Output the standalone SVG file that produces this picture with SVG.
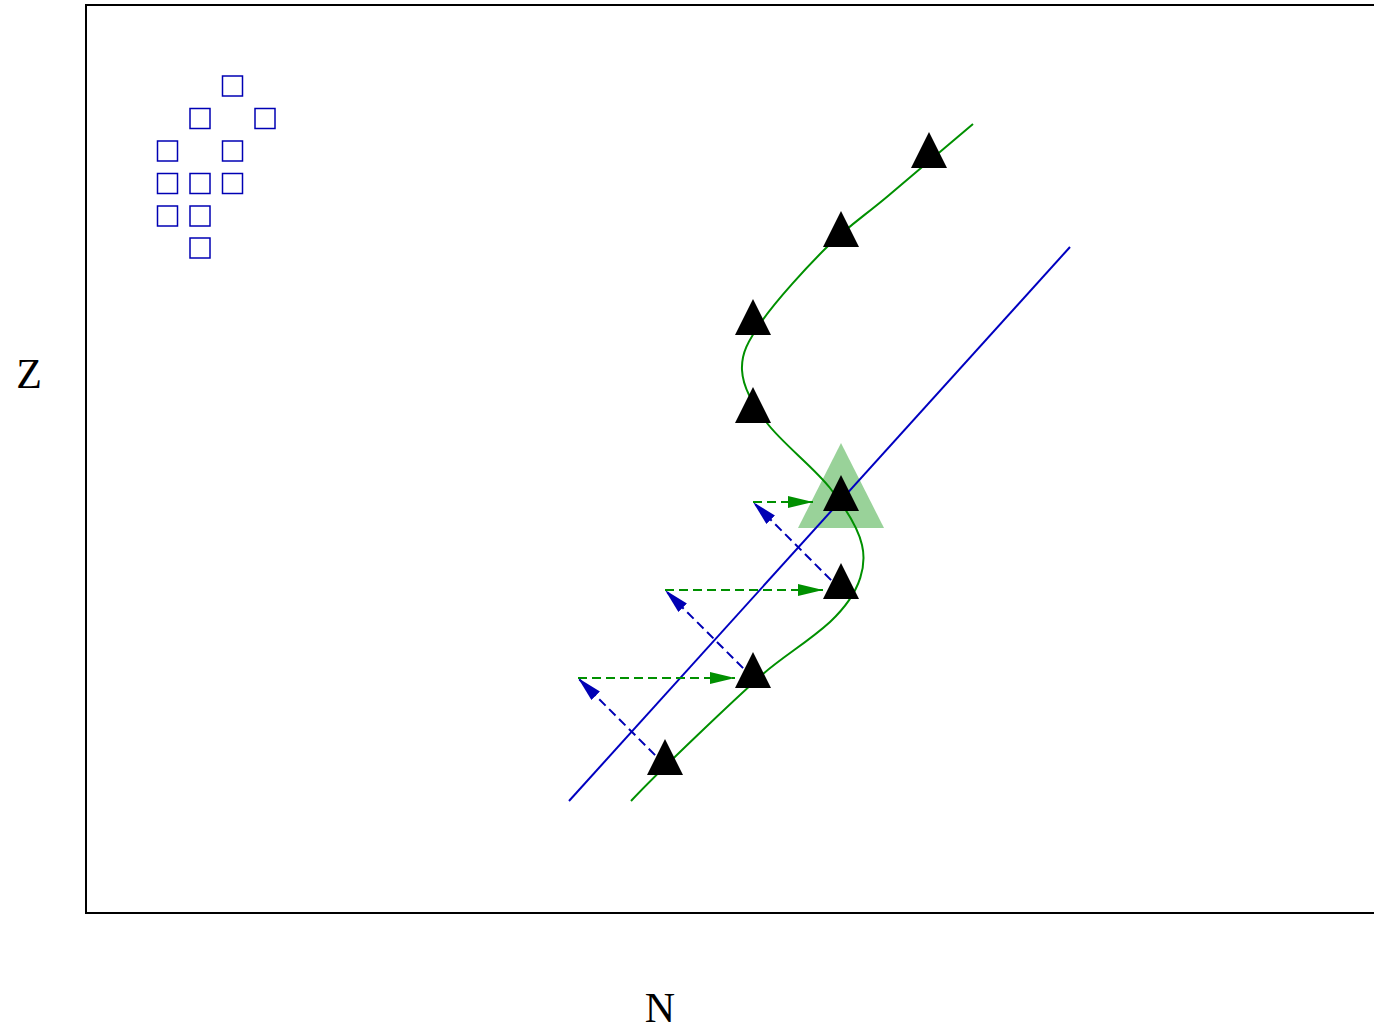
<svg xmlns="http://www.w3.org/2000/svg" width="1374" height="1029" viewBox="0 0 1374 1029">
<style>
.frame{fill:none;stroke:#000;stroke-width:2}
.sq{fill:none;stroke:#0000b4;stroke-width:1.5}
.tri{fill:#000}
.lbl{font-family:"Liberation Serif",serif;font-size:42px;fill:#000}
.gdash{fill:none;stroke:#009000;stroke-width:2;stroke-dasharray:9,5}
.bdash{fill:none;stroke:#0000b4;stroke-width:2;stroke-dasharray:9,5}
</style>
<defs>
<marker id="ga" markerUnits="userSpaceOnUse" markerWidth="26" markerHeight="14" refX="25" refY="6" orient="auto"><path d="M0,0 L25,6 L0,12 Z" fill="#009000"/></marker>
<marker id="ba" markerUnits="userSpaceOnUse" markerWidth="26" markerHeight="14" refX="25" refY="6" orient="auto"><path d="M0,0 L25,6 L0,12 Z" fill="#0000b4"/></marker>
<path id="t" d="M0,-26 L18,10 L-18,10 Z"/>
</defs>
<path class="frame" d="M1380,5 H86 V913 H1380"/>
<g id="legend">
<rect class="sq" x="222.5" y="76" width="20" height="20"/>
<rect class="sq" x="190" y="108.5" width="20" height="20"/>
<rect class="sq" x="255" y="108.5" width="20" height="20"/>
<rect class="sq" x="157.5" y="141" width="20" height="20"/>
<rect class="sq" x="222.5" y="141" width="20" height="20"/>
<rect class="sq" x="157.5" y="173.5" width="20" height="20"/>
<rect class="sq" x="190" y="173.5" width="20" height="20"/>
<rect class="sq" x="222.5" y="173.5" width="20" height="20"/>
<rect class="sq" x="157.5" y="206" width="20" height="20"/>
<rect class="sq" x="190" y="206" width="20" height="20"/>
<rect class="sq" x="190" y="238" width="20" height="20"/>
</g>
<g id="highlight"><path d="M841,443 L884,528 L798,528 Z" fill="#99d299"/></g>
<g id="connectors">
<path d="M973,124 C958.8,136 912.3,175.5 888,196 C863.7,216.5 848,226.2 827,247 C806,267.8 776.2,300.5 762,321 C747.8,341.5 741.2,353 742,370 C742.8,387 752.3,403.3 767,423 C781.7,442.7 814.2,467.7 830,488 C845.8,508.3 858.3,528.3 862,545 C866,562 864,590 830,622 C808,642 785,655 763,674 C735,699 660,770 631,801" fill="none" stroke="#009000" stroke-width="2"/>
<path d="M569,801 L1070,247" fill="none" stroke="#0000c0" stroke-width="2"/>
<path class="bdash" d="M665,765 L578,678" marker-end="url(#ba)"/>
<path class="gdash" d="M578,678 L735,678" marker-end="url(#ga)"/>
<path class="bdash" d="M753,678 L665,590" marker-end="url(#ba)"/>
<path class="gdash" d="M665,590 L823,590" marker-end="url(#ga)"/>
<path class="bdash" d="M841,590 L753,502" marker-end="url(#ba)"/>
<path class="gdash" d="M753,502 L813,502" marker-end="url(#ga)"/>
</g>
<g id="points">
<use href="#t" class="tri" x="929" y="158"/>
<use href="#t" class="tri" x="841" y="237"/>
<use href="#t" class="tri" x="753" y="325"/>
<use href="#t" class="tri" x="753" y="413"/>
<use href="#t" class="tri" x="841" y="501"/>
<use href="#t" class="tri" x="841" y="589"/>
<use href="#t" class="tri" x="753" y="678"/>
<use href="#t" class="tri" x="665" y="765"/>
</g>
<text class="lbl" x="29" y="388" text-anchor="middle">Z</text>
<text class="lbl" x="660" y="1022" text-anchor="middle">N</text>
</svg>
